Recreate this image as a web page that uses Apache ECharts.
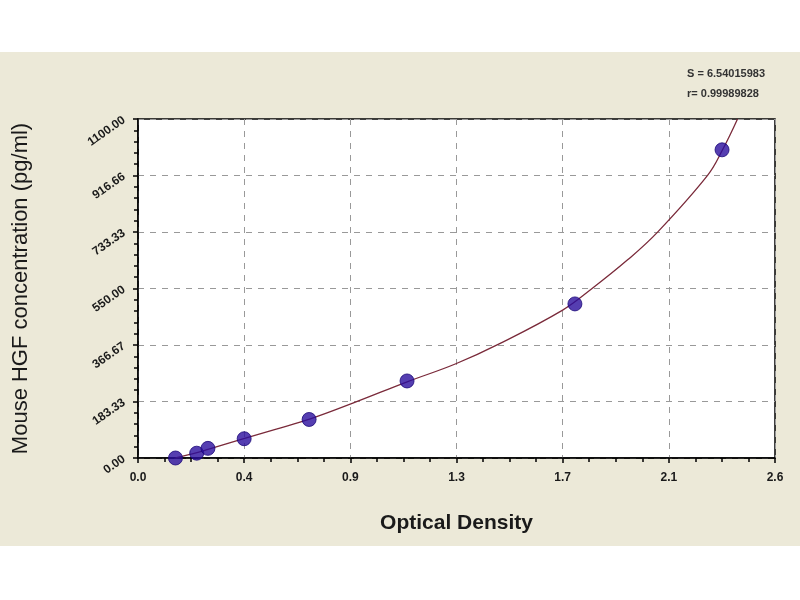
<!DOCTYPE html>
<html>
<head>
<meta charset="utf-8">
<script src="https://cdn.jsdelivr.net/npm/echarts@6/dist/echarts.min.js"></script>
<style>
  html, body { margin: 0; padding: 0; background: #fff; }
  #chart { width: 800px; height: 600px; }
</style>
</head>
<body>
<div id="chart"></div>
<script>
// standard points (optical density, concentration)
const odValues = [0.15, 0.235, 0.28, 0.425, 0.685, 1.077, 1.749, 2.338];
const concValues = [0, 15.6, 31.25, 62.5, 125, 250, 500, 1000];

// fitted curve
const curveOd = [0.15, 0.24, 0.28, 0.42, 0.55, 0.69, 0.86, 1.08, 1.27, 1.45, 1.70, 1.81, 1.96, 2.08, 2.28, 2.34, 2.40];
const curveConc = [0, 18, 28, 62, 93, 127, 178, 248, 305, 372, 480, 545, 643, 733, 917, 1000, 1100];

const xTickLabels = ['0.0', '0.4', '0.9', '1.3', '1.7', '2.1', '2.6'];
const yTickLabels = ['0.00', '183.33', '366.67', '550.00', '733.33', '916.66', '1100.00'];
const fitText = ['S = 6.54015983', 'r= 0.99989828'];

const xStep = 0.425;
const yStep = 1100 / 6;

const chart = echarts.init(document.getElementById('chart'));

const tickIndex = (v, step) => Math.round(v / step);

chart.setOption({
  animation: false,
  backgroundColor: '#ffffff',
  textStyle: { fontFamily: 'Arial, "Liberation Sans", sans-serif' },
  graphic: [
    {
      type: 'rect',
      z: -10,
      shape: { x: 0, y: 52, width: 800, height: 494 },
      style: { fill: '#ECE9D8' }
    },
    {
      type: 'text',
      right: 35,
      top: 64,
      style: {
        text: fitText.join('\n'),
        align: 'right',
        fill: '#333',
        font: 'bold 11px Arial, "Liberation Sans", sans-serif',
        lineHeight: 20
      }
    }
  ],
  grid: {
    left: 138,
    right: 25,
    top: 119,
    bottom: 142,
    show: true,
    backgroundColor: '#ffffff',
    borderColor: '#000',
    borderWidth: 1.5
  },
  xAxis: {
    type: 'value',
    min: 0,
    max: 2.55,
    interval: xStep,
    name: 'Optical Density',
    nameLocation: 'middle',
    nameGap: 55,
    nameTextStyle: { fontSize: 21, fontWeight: 'bold', color: '#1a1a1a' },
    axisLine: { show: true, lineStyle: { color: '#000', width: 1.5 } },
    axisTick: { show: true, length: 5, lineStyle: { color: '#000', width: 1.5 } },
    minorTick: { show: true, splitNumber: 4, length: 4, lineStyle: { color: '#000', width: 1.5 } },
    axisLabel: {
      color: '#1a1a1a',
      fontSize: 12,
      fontWeight: 'bold',
      margin: 14,
      formatter: v => xTickLabels[tickIndex(v, xStep)]
    },
    splitLine: { show: true, lineStyle: { color: '#999', type: [6, 6], width: 1 } }
  },
  yAxis: {
    type: 'value',
    min: 0,
    max: 1100,
    interval: yStep,
    name: 'Mouse HGF concentration (pg/ml)',
    nameLocation: 'middle',
    nameGap: 106,
    nameTextStyle: { fontSize: 22, color: '#1a1a1a' },
    axisLine: { show: true, lineStyle: { color: '#000', width: 1.5 } },
    axisTick: { show: true, length: 5, lineStyle: { color: '#000', width: 1.5 } },
    minorTick: { show: true, splitNumber: 5, length: 4, lineStyle: { color: '#000', width: 1.5 } },
    axisLabel: {
      color: '#1a1a1a',
      fontSize: 12,
      fontWeight: 'bold',
      rotate: 35,
      margin: 14,
      formatter: v => yTickLabels[tickIndex(v, yStep)]
    },
    splitLine: { show: true, lineStyle: { color: '#999', type: [6, 6], width: 1 } }
  },
  series: [
    {
      type: 'line',
      smooth: 0.4,
      showSymbol: false,
      data: curveOd.map((x, i) => [x, curveConc[i]]),
      lineStyle: { color: '#7A2A3A', width: 1.3 },
      z: 2
    },
    {
      type: 'scatter',
      symbol: 'circle',
      symbolSize: 14,
      data: odValues.map((x, i) => [x, concValues[i]]),
      itemStyle: { color: '#2A0E9E', borderColor: '#1A0878', borderWidth: 1 },
      z: 3
    }
  ]
});
</script>
</body>
</html>
